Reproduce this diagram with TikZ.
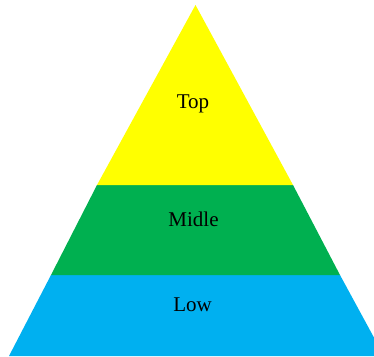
\documentclass[tikz,border=0pt]{standalone}
\usepackage{fontspec}
\setmainfont{Liberation Serif}
\definecolor{topyellow}{RGB}{255, 255, 0}
\definecolor{midgreen}{RGB}{0, 176, 80}
\definecolor{lowblue}{RGB}{0, 176, 240}
\usetikzlibrary{positioning, calc}

\begin{document}
\begin{tikzpicture}[
  x=1pt, y=-1pt,
  layer/.style={draw=none},
  label/.style={font=\fontsize{21}{24}\selectfont, anchor=base, inner sep=0pt}
]
  \useasboundingbox (0,0) rectangle (374,356);
  \begin{scope}
    \clip (0,0) rectangle (374,356);
    % layers, bottom to top
    \fill[layer, lowblue] (51,275) -- (340,275) -- (384,356) -- (9,356) -- cycle;
    \fill[layer, midgreen] (97,185) -- (293,185) -- (340,275) -- (51,275) -- cycle;
    \fill[layer, topyellow] (195.5,5) -- (293,185) -- (97,185) -- cycle;
  \end{scope}
  \node[label] (top) at (193,108) {Top};
  \node[label] (mid) at (193.5,226) {Midle};
  \node[label] (low) at (192.5,311) {Low};
\end{tikzpicture}
\end{document}
